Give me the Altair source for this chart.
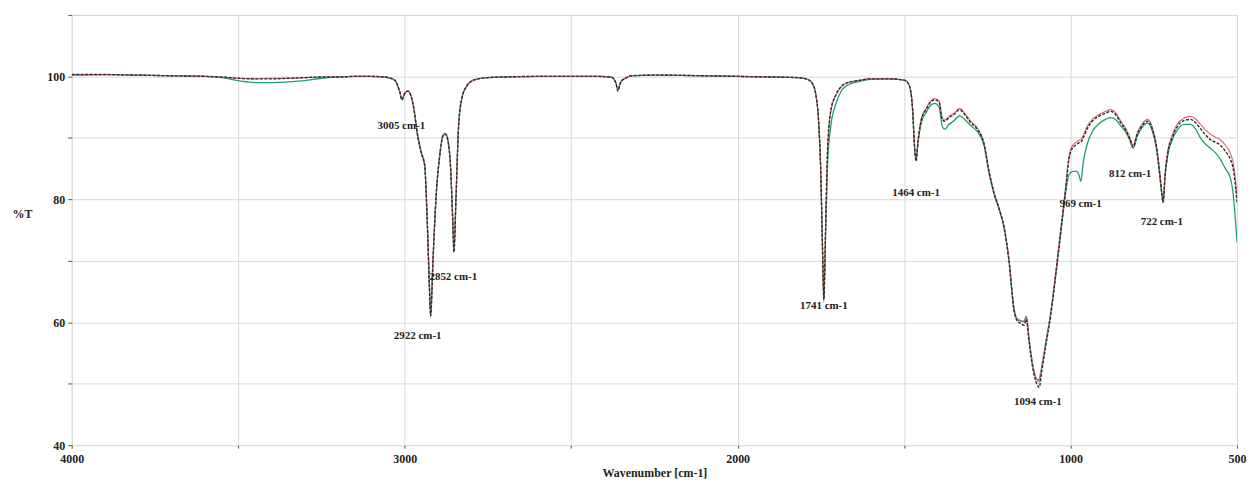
import altair as alt
import pandas as pd

wavenumber = [4000, 3900, 3800, 3700, 3600, 3550, 3500, 3450, 3400, 3350, 3300, 3250, 3200, 3150, 3100,
              3060, 3030, 3015, 3008, 3000, 2990, 2975, 2960, 2950, 2940, 2932, 2926, 2922, 2915, 2905,
              2895, 2885, 2878, 2870, 2862, 2856, 2852, 2846, 2838, 2828, 2815, 2800, 2780, 2750, 2700,
              2600, 2500, 2420, 2380, 2365, 2360, 2350, 2340, 2320, 2250, 2100, 2000, 1900, 1820, 1790,
              1775, 1765, 1757, 1750, 1745, 1741, 1736, 1730, 1720, 1705, 1690, 1670, 1640, 1600, 1550,
              1500, 1485, 1475, 1468, 1464, 1458, 1448, 1435, 1420, 1408, 1395, 1385, 1378, 1365, 1350,
              1333, 1318, 1300, 1280, 1260, 1245, 1230, 1215, 1200, 1185, 1170, 1160, 1150, 1140, 1133,
              1125, 1115, 1105, 1098, 1094, 1088, 1075, 1060, 1045, 1030, 1015, 1005, 995, 985, 975,
              969, 962, 950, 935, 915, 895, 880, 865, 850, 835, 822, 812, 800, 785, 768,
              755, 742, 732, 726, 722, 716, 708, 695, 680, 660, 640, 625, 610, 595, 580,
              565, 550, 535, 520, 510, 500]

black = [100.3, 100.3, 100.2, 100.1, 100.0, 99.9, 99.7, 99.6, 99.6, 99.7, 99.8, 99.9, 99.9, 100.0, 100.0,
         99.9, 99.4, 97.5, 96.2, 97.2, 97.6, 95.5, 90.0, 87.5, 85.5, 76.0, 66.0, 61.0, 70.0, 81.0,
         87.0, 90.3, 90.6, 89.5, 85.0, 77.0, 71.4, 80.0, 92.0, 96.5, 98.3, 99.2, 99.6, 99.8, 99.9,
         100.0, 100.0, 100.0, 99.9, 98.8, 97.6, 99.2, 99.6, 100.1, 100.2, 100.1, 100.0, 99.9, 99.8, 99.5,
         98.8, 97.0, 93.0, 84.0, 72.0, 63.7, 75.0, 88.0, 94.5, 97.0, 98.3, 99.0, 99.3, 99.6, 99.6,
         99.4, 98.6, 95.0, 88.0, 86.2, 89.5, 93.0, 94.5, 95.8, 96.2, 95.8, 93.0, 92.7, 93.3, 93.8,
         94.6, 93.8, 92.5, 91.4, 89.0, 84.5, 81.0, 78.5, 75.5, 70.0, 62.0, 60.2, 59.8, 59.5, 60.5,
         57.0, 53.0, 50.5, 49.6, 49.4, 51.5, 56.0, 61.0, 67.5, 74.5, 81.5, 86.5, 88.3, 88.8, 89.2,
         89.3, 90.0, 91.5, 92.7, 93.5, 94.0, 94.3, 93.8, 92.5, 91.3, 89.8, 88.5, 90.5, 92.0, 92.7,
         91.5, 88.5, 84.0, 81.0, 79.5, 84.0, 87.5, 90.0, 91.8, 92.8, 93.0, 92.5, 91.5, 90.5, 89.7,
         89.3, 88.8, 87.8, 86.5, 84.5, 79.5]

red = [100.3, 100.3, 100.2, 100.1, 100.0, 99.9, 99.7, 99.6, 99.7, 99.7, 99.8, 99.9, 99.9, 100.0, 100.0,
       99.9, 99.4, 97.6, 96.4, 97.3, 97.7, 95.7, 90.3, 87.8, 85.8, 76.5, 66.8, 61.8, 70.5, 81.3,
       87.2, 90.5, 90.8, 89.7, 85.3, 77.5, 72.0, 80.5, 92.2, 96.6, 98.4, 99.2, 99.6, 99.8, 99.9,
       100.0, 100.0, 100.0, 99.9, 98.9, 97.9, 99.3, 99.6, 100.1, 100.2, 100.1, 100.0, 99.9, 99.8, 99.5,
       98.8, 97.0, 92.8, 83.5, 71.0, 63.2, 74.5, 87.5, 94.3, 96.9, 98.2, 99.0, 99.3, 99.6, 99.6,
       99.4, 98.6, 95.2, 88.3, 86.6, 89.7, 93.2, 94.7, 96.0, 96.4, 96.0, 93.2, 92.9, 93.5, 94.0,
       94.8, 94.0, 92.7, 91.6, 89.2, 84.7, 81.2, 78.7, 75.7, 70.3, 62.4, 60.6, 60.3, 60.2, 61.0,
       57.6, 53.6, 51.2, 50.4, 50.3, 52.2, 56.6, 61.5, 68.0, 75.0, 82.0, 87.0, 88.7, 89.2, 89.6,
       89.7, 90.4, 91.9, 93.0, 93.8, 94.3, 94.6, 94.1, 92.8, 91.6, 90.1, 88.8, 90.8, 92.3, 93.0,
       91.8, 88.8, 84.5, 81.2, 79.8, 84.5, 88.0, 90.4, 92.2, 93.2, 93.5, 93.1, 92.2, 91.3, 90.6,
       90.1, 89.7, 88.8, 87.5, 85.5, 80.5]

green = [100.2, 100.3, 100.2, 100.1, 100.0, 99.8, 99.3, 99.0, 99.0, 99.1, 99.3, 99.7, 99.9, 100.0, 100.0,
         99.9, 99.4, 97.5, 96.2, 97.2, 97.6, 95.5, 90.0, 87.5, 85.5, 76.0, 66.0, 61.2, 70.0, 81.0,
         87.0, 90.3, 90.6, 89.5, 85.0, 77.0, 71.6, 80.0, 92.0, 96.5, 98.3, 99.2, 99.6, 99.8, 99.9,
         100.0, 100.0, 100.0, 99.9, 98.9, 97.8, 99.2, 99.6, 100.1, 100.2, 100.1, 100.0, 99.9, 99.8, 99.5,
         98.8, 97.0, 93.0, 84.0, 72.0, 64.0, 74.0, 85.5, 92.0, 95.5, 97.5, 98.6, 99.1, 99.5, 99.6,
         99.4, 98.6, 95.0, 88.0, 86.4, 89.3, 92.5, 94.0, 95.3, 95.6, 95.0, 91.8, 91.4, 92.2, 92.8,
         93.6, 93.0, 92.0, 91.0, 88.8, 84.3, 80.9, 78.4, 75.4, 70.0, 62.0, 60.4, 60.2, 60.1, 61.0,
         57.4, 53.4, 51.0, 50.6, 50.8, 52.3, 56.5, 61.3, 67.5, 74.3, 81.0, 84.0, 84.5, 84.6, 84.0,
         82.9, 86.0, 89.0, 91.0, 92.3, 93.0, 93.3, 93.0, 92.0, 91.0, 89.6, 88.3, 90.2, 91.7, 92.4,
         91.2, 88.2, 83.8, 80.8, 79.5, 83.8, 87.2, 89.6, 91.2, 92.2, 92.2, 91.5, 90.0, 89.0, 88.3,
         87.6, 86.5, 85.0, 83.5, 80.0, 73.0]

label_text = ["3005 cm-1", "2922 cm-1", "2852 cm-1", "1741 cm-1", "1464 cm-1",
              "1094 cm-1", "969 cm-1", "812 cm-1", "722 cm-1"]
label_x = [3010, 2961, 2854, 1741, 1464, 1098, 970, 821, 726]
label_y = [92.0, 57.7, 67.3, 62.6, 81.1, 47.0, 79.2, 84.1, 76.3]

series_names = ["green", "red", "black"]
series_vals = [green, red, black]

rows = []
for name, vals in zip(series_names, series_vals):
    for i, (w, v) in enumerate(zip(wavenumber, vals)):
        rows.append({"wn": w, "T": v, "series": name, "order": i})
df = pd.DataFrame(rows)
labels_df = pd.DataFrame({"text": label_text, "wn": label_x, "T": label_y})

FONT = "Liberation Serif"

x_scale = alt.Scale(domain=[500, 4000], reverse=True, nice=False, zero=False)
y_scale = alt.Scale(domain=[40, 110], nice=False, zero=False)

x_axis = alt.Axis(
    values=[4000, 3500, 3000, 2500, 2000, 1500, 1000, 500],
    labelExpr="(datum.value % 1000 == 0 || datum.value == 500) ? datum.value : ''",
    title="Wavenumber [cm-1]", titleFont=FONT, titleFontWeight="bold", titleFontSize=12,
    titlePadding=3, labelFont=FONT, labelFontWeight="bold", labelFontSize=12, labelPadding=5,
    labelColor="#222", titleColor="#222",
    grid=True, gridColor="#d9d9d9", tickColor="#555", tickSize=3, domain=False,
    labelFlush=False, labelOverlap=False,
)
y_axis = alt.Axis(
    values=[40, 50, 60, 70, 80, 90, 100, 110],
    labelExpr="(datum.value == 40 || datum.value == 60 || datum.value == 80 || datum.value == 100) ? datum.value : ''",
    title="%T", titleAngle=0, titleX=-50, titleY=199, titleAlign="center", titleBaseline="middle",
    titleFont=FONT, titleFontWeight="bold", titleFontSize=12, titleColor="#222",
    labelFont=FONT, labelFontWeight="bold", labelFontSize=12, labelColor="#222", labelPadding=3,
    grid=True, gridColor="#d9d9d9", tickColor="#555", tickSize=4, domain=False,
    labelOverlap=False,
)

base = alt.Chart(df)

def line(name, color, width, dash=None):
    kw = dict(color=color, strokeWidth=width, interpolate="monotone", clip=True)
    if dash:
        kw["strokeDash"] = dash
    return base.transform_filter(alt.datum.series == name).mark_line(**kw).encode(
        x=alt.X("wn:Q", scale=x_scale, axis=x_axis),
        y=alt.Y("T:Q", scale=y_scale, axis=y_axis),
        order="order:Q",
    )

g = line("green", "#1f9e6e", 1.3)
r = line("red", "#d46a6a", 1.1)
k = line("black", "#2b2b2b", 1.4, [3, 1.5])

txt = alt.Chart(labels_df).mark_text(
    font=FONT, fontWeight="bold", fontSize=11, color="#222", align="center", baseline="middle"
).encode(
    x=alt.X("wn:Q", scale=x_scale),
    y=alt.Y("T:Q", scale=y_scale),
    text="text:N",
)

chart = alt.layer(g, r, k, txt).properties(
    width=1170, height=432,
    autosize=alt.AutoSizeParams(type="none"),
    padding={"left": 64, "top": 6, "right": 12, "bottom": 34},
).configure_view(stroke="#555", strokeWidth=2).configure(background="white")

chart.save("out.html", embed_options={"renderer": "svg", "actions": False})
